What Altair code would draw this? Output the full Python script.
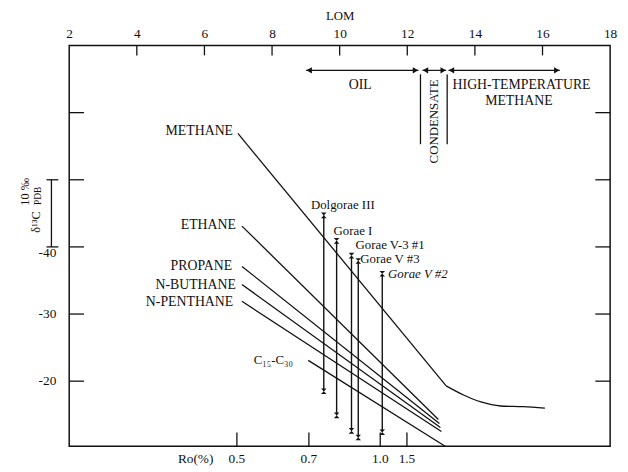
import altair as alt
import pandas as pd

FONT = "Liberation Serif"
INK = "#111111"

# ---- axes / ticks ----
lom_ticks = [2, 4, 6, 8, 10, 12, 14, 16, 18]
lom_inner_ticks = [4, 6, 8, 10, 12, 14, 16]
d13c_ticks = [-60, -50, -40, -30, -20]
d13c_labels = [-40, -30, -20]
d13c_label_shift = [6, 0, 0]
ro_text = ["Ro(%)", "0.5", "0.7", "1.0", "1.5"]
ro_text_lom = [5.74, 6.96, 9.09, 11.20, 11.99]
ro_tick_lom = [6.96, 9.09, 11.20, 11.99]

# ---- straight trend lines (LOM, d13C) ----
series_names = ["METHANE", "ETHANE", "PROPANE", "N-BUTHANE", "N-PENTHANE", "C15-C30"]
line_lom_start = [6.99, 7.11, 7.11, 7.11, 7.11, 9.07]
line_d_start = [-56.9, -43.1, -37.1, -34.4, -31.9, -23.1]
line_lom_end = [13.15, 12.92, 12.95, 12.98, 13.01, 13.12]
line_d_end = [-19.3, -14.3, -13.7, -13.1, -12.5, -10.3]

# methane high-maturity tail
tail_lom = [13.15, 13.68, 14.18, 14.76, 15.43, 16.07]
tail_d = [-19.3, -17.9, -16.9, -16.3, -16.2, -16.0]

# series labels
label_text = ["METHANE", "ETHANE", "PROPANE", "N-BUTHANE", "N-PENTHANE"]
label_lom = [6.905, 6.99, 6.88, 6.99, 6.91]
label_d = [-57.2, -43.2, -37.1, -34.3, -31.8]
c15_text = ["C\u2081\u2085-C\u2083\u2080"]
c15_lom = [8.04]
c15_d = [-23.1]

# ---- sample ranges ----
sample_names = ["Dolgorae III", "Gorae I", "Gorae V-3 #1", "Gorae V #3", "Gorae V #2"]
sample_lom = [9.53, 9.91, 10.35, 10.55, 11.26]
sample_top = [-44.7, -40.9, -38.7, -37.9, -36.0]
sample_bottom = [-18.5, -14.9, -12.6, -11.6, -12.4]
sample_label_lom = [9.15, 9.82, 10.47, 10.61, 11.43]
sample_label_d = [-46.3, -42.3, -40.3, -38.2, -36.0]
sample_italic = [False, False, False, False, True]

# ---- maturity zones ----
zone_names = ["OIL", "CONDENSATE", "HIGH-TEMPERATURE"]
zone_start = [9.01, 12.45, 13.22]
zone_end = [12.33, 13.15, 16.51]
zone_arrow_d = -66.3
zone_sep_lom = [12.39, 13.18]
zone_sep_top = -65.7
zone_sep_bottom = -55.3
zone_text = ["OIL", "HIGH-TEMPERATURE", "METHANE"]
zone_text_lom = [10.61, 15.38, 15.30]
zone_text_d = [-64.1, -64.1, -61.8]
cond_text_lom = [12.78]
cond_text_d = [-58.7]

# scale bar 10 permil
bar_d = [-50, -40]

W, H = 548, 406

xscale = alt.Scale(domain=[2, 18], nice=False, zero=False)
yscale = alt.Scale(domain=[-70.0, -10.3], nice=False, zero=False, reverse=True)
xaxis = alt.Axis(orient="top", values=lom_ticks, ticks=False, domain=False, grid=False,
                 labelFont=FONT, labelFontSize=13.5, labelColor=INK, labelPadding=5,
                 title="LOM", titleFont=FONT, titleFontSize=13, titleFontWeight="normal",
                 titleColor=INK, titlePadding=4, labelFlush=False)


def X(f):
    return alt.X(f, type="quantitative", scale=xscale, axis=xaxis)


def Y(f):
    return alt.Y(f, type="quantitative", scale=yscale, axis=None)


lines_df = pd.DataFrame({"name": series_names, "lom": line_lom_start, "d": line_d_start,
                         "lom2": line_lom_end, "d2": line_d_end})
lines = alt.Chart(lines_df).mark_rule(color=INK, strokeWidth=1.3).encode(
    x=X("lom"), y=Y("d"), x2="lom2", y2="d2")

tail_df = pd.DataFrame({"lom": tail_lom, "d": tail_d})
tail = alt.Chart(tail_df).mark_line(color=INK, strokeWidth=1.3, interpolate="monotone").encode(
    x=X("lom"), y=Y("d"))

lab_df = pd.DataFrame({"t": label_text, "lom": label_lom, "d": label_d})
labels = alt.Chart(lab_df).mark_text(font=FONT, fontSize=14, color=INK, align="right",
                                     baseline="middle", dx=-2).encode(
    x=X("lom"), y=Y("d"), text="t")

c15_df = pd.DataFrame({"t": c15_text, "lom": c15_lom, "d": c15_d})
c15 = alt.Chart(c15_df).mark_text(font=FONT, fontSize=13, color=INK, align="center",
                                  baseline="middle").encode(x=X("lom"), y=Y("d"), text="t")

samp_df = pd.DataFrame({"name": sample_names, "lom": sample_lom, "top": sample_top,
                        "bottom": sample_bottom, "llom": sample_label_lom,
                        "ld": sample_label_d, "it": sample_italic})
bars = alt.Chart(samp_df).mark_rule(color=INK, strokeWidth=1.4).encode(
    x=X("lom"), y=Y("top"), y2="bottom")
bowtie = "M-1,-1L1,-1L-1,1L1,1Z"
caps_top = alt.Chart(samp_df).mark_point(shape=bowtie, filled=True, color=INK, size=32,
                                         opacity=1).encode(x=X("lom"), y=Y("top"))
caps_bot = alt.Chart(samp_df).mark_point(shape=bowtie, filled=True, color=INK, size=32,
                                         opacity=1).encode(x=X("lom"), y=Y("bottom"))
samp_lab = alt.Chart(samp_df).transform_filter("!datum.it").mark_text(
    font=FONT, fontSize=13, color=INK, align="left", baseline="middle").encode(
    x=X("llom"), y=Y("ld"), text="name")
samp_lab_it = alt.Chart(samp_df).transform_filter("datum.it").mark_text(
    font=FONT, fontSize=13, fontStyle="italic", color=INK, align="left",
    baseline="middle").encode(x=X("llom"), y=Y("ld"), text="name")

zone_df = pd.DataFrame({"z": zone_names, "s": zone_start, "e": zone_end,
                        "d": [zone_arrow_d] * 3})
zone_lines = alt.Chart(zone_df).mark_rule(color=INK, strokeWidth=1.2).encode(
    x=X("s"), x2="e", y=Y("d"))
zone_left = alt.Chart(zone_df).mark_point(shape="triangle-left", filled=True, color=INK,
                                          size=40, opacity=1, xOffset=3).encode(
    x=X("s"), y=Y("d"))
zone_right = alt.Chart(zone_df).mark_point(shape="triangle-right", filled=True, color=INK,
                                           size=40, opacity=1, xOffset=-3).encode(
    x=X("e"), y=Y("d"))
sep_df = pd.DataFrame({"lom": zone_sep_lom, "t": [zone_sep_top] * 2, "b": [zone_sep_bottom] * 2})
seps = alt.Chart(sep_df).mark_rule(color=INK, strokeWidth=1.3).encode(
    x=X("lom"), y=Y("t"), y2="b")
zt_df = pd.DataFrame({"t": zone_text, "lom": zone_text_lom, "d": zone_text_d})
zone_txt = alt.Chart(zt_df).mark_text(font=FONT, fontSize=14, color=INK, align="center",
                                      baseline="middle").encode(x=X("lom"), y=Y("d"), text="t")
cond_df = pd.DataFrame({"t": ["CONDENSATE"], "lom": cond_text_lom, "d": cond_text_d})
cond_txt = alt.Chart(cond_df).mark_text(font=FONT, fontSize=13, color=INK, align="center",
                                        baseline="middle", angle=270).encode(
    x=X("lom"), y=Y("d"), text="t")

# ticks pointing inward
top_df = pd.DataFrame({"lom": lom_inner_ticks})
top_ticks = alt.Chart(top_df).mark_rule(color=INK, strokeWidth=1.3).encode(
    x=X("lom"), y=alt.value(0), y2=alt.value(10))
ro_tdf = pd.DataFrame({"lom": ro_tick_lom})
ro_ticks = alt.Chart(ro_tdf).mark_rule(color=INK, strokeWidth=1.3).encode(
    x=X("lom"), y=alt.value(H - 14), y2=alt.value(H))
ro_ldf = pd.DataFrame({"t": ro_text, "lom": ro_text_lom})
ro_labels = alt.Chart(ro_ldf).mark_text(font=FONT, fontSize=13.5, color=INK, align="center",
                                        baseline="middle").encode(
    x=X("lom"), y=alt.value(H + 13), text="t")
yt_df = pd.DataFrame({"d": d13c_ticks})
left_ticks = alt.Chart(yt_df).mark_rule(color=INK, strokeWidth=1.3).encode(
    y=Y("d"), x=alt.value(0), x2=alt.value(15))
right_ticks = alt.Chart(yt_df).mark_rule(color=INK, strokeWidth=1.3).encode(
    y=Y("d"), x=alt.value(W - 15), x2=alt.value(W))
yl_df = pd.DataFrame({"d": d13c_labels, "sh": d13c_label_shift})
yl_df["t"] = [str(v) for v in d13c_labels]
y_labels_main = alt.Chart(yl_df).transform_filter("datum.sh == 0").mark_text(
    font=FONT, fontSize=13.5, color=INK, align="right", baseline="middle").encode(
    y=Y("d"), x=alt.value(-13), text="t")
y_labels_shift = alt.Chart(yl_df).transform_filter("datum.sh != 0").mark_text(
    font=FONT, fontSize=13.5, color=INK, align="right", baseline="middle", dy=6).encode(
    y=Y("d"), x=alt.value(-13), text="t")

# scale bar
sb_df = pd.DataFrame({"d": [bar_d[0]], "d2": [bar_d[1]]})
sbar = alt.Chart(sb_df).mark_rule(color=INK, strokeWidth=1.3).encode(
    y=Y("d"), y2="d2", x=alt.value(-18))
sc_df = pd.DataFrame({"d": bar_d})
scaps = alt.Chart(sc_df).mark_rule(color=INK, strokeWidth=1.3).encode(
    y=Y("d"), x=alt.value(-23), x2=alt.value(-11))
st1 = alt.Chart(pd.DataFrame({"t": ["10 \u2030"], "d": [-48.2]})).mark_text(
    font=FONT, fontSize=12.5, color=INK, angle=270, align="center", baseline="middle").encode(
    y=Y("d"), x=alt.value(-45), text="t")
st2 = alt.Chart(pd.DataFrame({"t": ["\u03b4\u00b9\u00b3C"], "d": [-43.7]})).mark_text(
    font=FONT, fontSize=12.5, color=INK, angle=270, align="center", baseline="middle").encode(
    y=Y("d"), x=alt.value(-34), text="t")
st3 = alt.Chart(pd.DataFrame({"t": ["PDB"], "d": [-47.6]})).mark_text(
    font=FONT, fontSize=9.5, color=INK, angle=270, align="center", baseline="middle").encode(
    y=Y("d"), x=alt.value(-32), text="t")

chart = alt.layer(
    lines, tail, labels, c15, bars, caps_top, caps_bot, samp_lab, samp_lab_it,
    zone_lines, zone_left, zone_right, seps, zone_txt, cond_txt,
    top_ticks, ro_ticks, ro_labels, left_ticks, right_ticks,
    y_labels_main, y_labels_shift,
    sbar, scaps, st1, st2, st3,
).properties(
    width=W, height=H,
    padding={"left": 62, "top": 35, "right": 10, "bottom": 20},
    autosize=alt.AutoSizeParams(type="none"),
    background="white",
).configure_view(stroke=INK, strokeWidth=1.5)

chart.save("out.html", embed_options={"renderer": "svg", "actions": False})
